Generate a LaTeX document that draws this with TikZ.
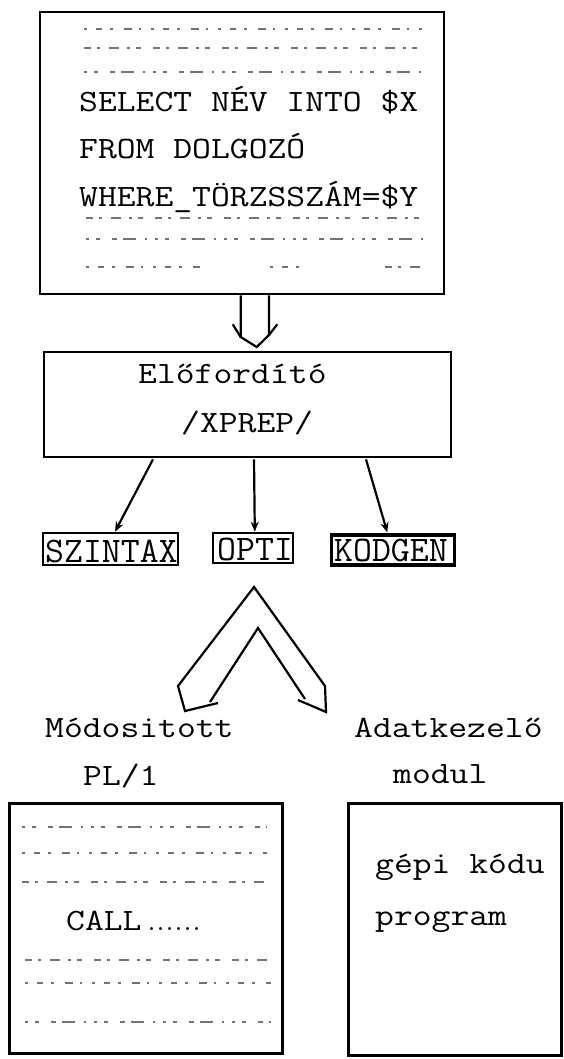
\documentclass[tikz,border=0pt]{standalone}
\usepackage{fontspec}
\usepackage{graphicx}
\usetikzlibrary{arrows.meta,calc}
\newcommand\twt[1]{{\ttfamily\fontsize{31}{31}\selectfont\scalebox{1.18}[1]{#1}}}
\newcommand\tws[1]{{\ttfamily\fontsize{36}{36}\selectfont\scalebox{1.02}[1]{#1}}}
\begin{document}
\begin{tikzpicture}[x=1pt,y=-1pt,
 box/.style={draw, line width=2.6pt, inner sep=0pt},
 lbl/.style={inner sep=0pt, anchor=base west},
 garble/.style={line width=2.4pt, black!55},
 gA/.style={garble, dash pattern=on 3pt off 9pt on 6pt off 8pt on 3pt off 11pt on 8pt off 7pt on 2pt off 10pt},
 gB/.style={garble, dash pattern=on 7pt off 6pt on 3pt off 9pt on 10pt off 8pt on 3pt off 6pt on 5pt off 12pt},
 gC/.style={garble, dash pattern=on 3pt off 7pt on 4pt off 12pt on 5pt off 6pt on 13pt off 9pt on 2pt off 8pt},
 conn/.style={line width=2.2pt, line join=miter},
 arr/.style={line width=2.2pt,-{Stealth[length=10pt,width=8pt]}},
]
\useasboundingbox[fill=white] (0,0) rectangle (563,1059);

% --- top box
\node[box, minimum width=404pt, minimum height=282pt] (top) at (242,153) {};
\draw[gA] (84,29) -- (424,29);
\draw[gB] (84,48) -- (424,48);
\draw[gC] (84,72) -- (424,72);
\node[lbl] (sel) at (79,112) {\twt{SELECT NÉV INTO \$X}};
\node[lbl] (frm) at (79,159) {\twt{FROM DOLGOZÓ}};
\node[lbl] (whr) at (79,207) {\twt{WHERE\_TÖRZSSZÁM=\$Y}};
\draw[gB] (86,218) -- (427,218);
\draw[gC] (86,239) -- (427,239);
\draw[gA] (86,267) -- (200,267);
\draw[gA] (270,267) -- (300,267);
\draw[gB] (385,267) -- (427,267);

% --- preprocessor box
\node[box, minimum width=407pt, minimum height=105pt] (pre) at (247.5,404.5) {};
\node[lbl] (pre1) at (138,383) {\twt{Előfordító}};
\node[lbl] (pre2) at (181,432) {\twt{/XPREP/}};

% --- double arrow between top box and preprocessor
\coordinate (dl) at (240.7,337);
\coordinate (dr) at (269,335);
\draw[conn] ($(top.south)+(-1.3,0)$) -- (dl) -- ($(pre.north)+(9.2,-3.7)$) -- (dr) -- ($(top.south)+(27,0)$);
\draw[conn] (232.7,324.3) -- (dl);
\draw[conn] (277.3,324.3) -- (dr);

% --- module boxes
\node[box, minimum width=135pt, minimum height=32pt] (sz) at (110.3,549) {};
\node[box, minimum width=80pt, minimum height=30pt] (op) at (252.8,548) {};
\node[box, line width=3.2pt, minimum width=123pt, minimum height=30pt] (kg) at (393.3,550) {};
\node[lbl] (szt) at (45,562) {\tws{SZINTAX}};
\node[lbl] (opt) at (217,560) {\tws{OPTI}};
\node[lbl] (kgt) at (334,561) {\tws{KODGEN}};

\draw[arr] ($(pre.south)+(-94.5,1)$) -- ($(sz.north)+(4.7,0)$);
\draw[arr] ($(pre.south)+(6.5,1)$) -- ($(op.north)+(2,0)$);
\draw[arr] ($(pre.south)+(118.5,1)$) -- ($(kg.north)+(-6,-1)$);

% --- hollow forked arrow
\draw[conn] (218,703) -- (185,711) -- (178,686) -- (254,587) -- (325,686) -- (326,712) -- (298,700);
\draw[conn] (210,702) -- (258,628) -- (305,699);

% --- labels
\node[lbl] (mod1) at (45,737) {\twt{Módositott}};
\node[lbl] (mod2) at (83,785) {\twt{PL/1}};
\node[lbl] (ad1) at (354,737) {\twt{Adatkezelő}};
\node[lbl] (ad2) at (393,783) {\twt{modul}};

% --- bottom boxes
\node[box, line width=3pt, minimum width=273pt, minimum height=250pt] (pl) at (145.5,928) {};
\draw[gC] (22,827) -- (267,827);
\draw[gA] (22,853) -- (267,853);
\draw[gB] (22,882) -- (267,882);
\node[lbl] (call) at (66,930) {\twt{CALL}\hspace{6pt}{\fontsize{36}{36}\selectfont ......}};
\draw[gB] (25,960) -- (271,960);
\draw[gA] (25,983) -- (271,983);
\draw[gC] (25,1022) -- (271,1022);

\node[box, line width=3pt, minimum width=213pt, minimum height=252pt] (gp) at (454.5,929) {};
\node[lbl] (gp1) at (375,873) {\twt{gépi kódu}};
\node[lbl] (gp2) at (375,925) {\twt{program}};
\end{tikzpicture}
\end{document}
